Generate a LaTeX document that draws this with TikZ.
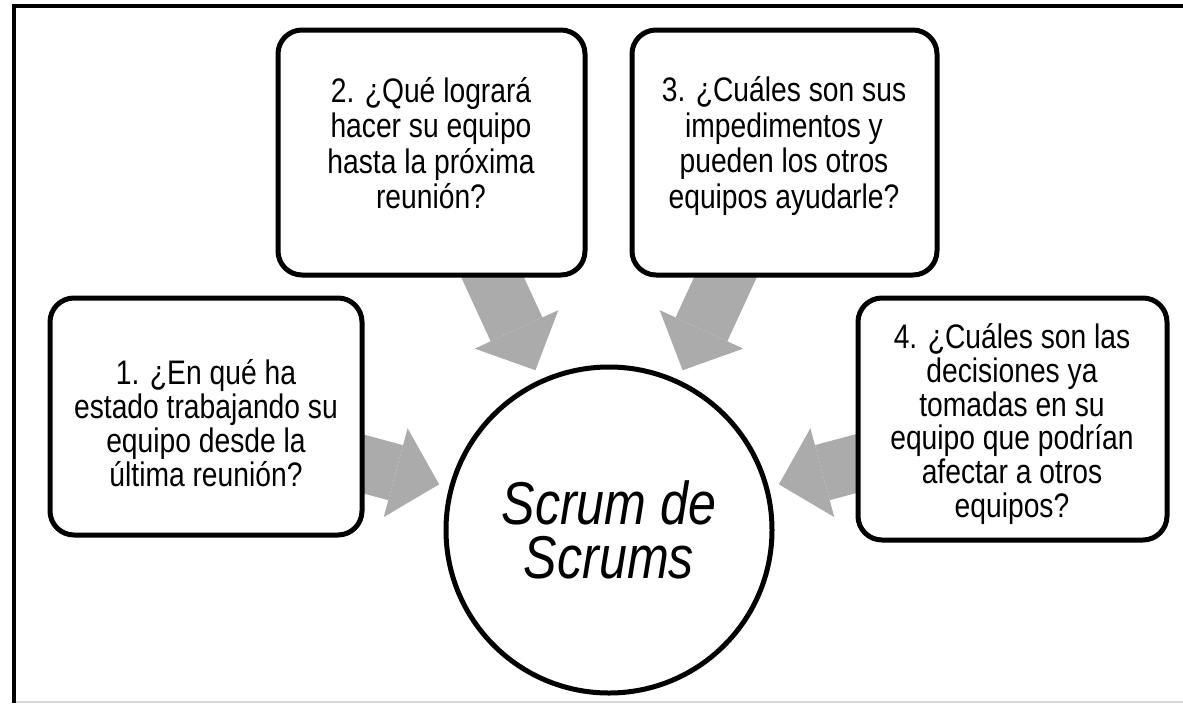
\documentclass[tikz,border=0pt]{standalone}
\usepackage{fontspec}
\setmainfont[FakeStretch=0.83]{Liberation Sans}
\usetikzlibrary{arrows.meta}
\definecolor{arrowgray}{HTML}{ABABAB}
\begin{document}
\begin{tikzpicture}[x=0.25mm,y=-0.25mm,
		qbox/.style={draw,line width=1.25mm,rounded corners=6mm,fill=white},
		qtext/.style={align=center,inner sep=0pt,font=\fontsize{24.2pt}{24.1pt}\selectfont},
		qtexttop/.style={qtext,font=\fontsize{24.2pt}{25.3pt}\selectfont},
		flow/.style={draw=arrowgray,line width=14.25mm,shorten >=2.6mm,-{Triangle[width=23mm,length=11.25mm,line width=0pt]}}]
	\useasboundingbox (0,0) rectangle (1183,703);
	\draw[line width=1mm] (14,703) -- (14,6) -- (1183,6);
	\draw[line width=0.4mm,black!15] (16,702) -- (1183,702);
	\node[circle,draw,line width=1.25mm,minimum size=81.5mm,inner sep=0pt,align=center,
		font=\fontsize{43pt}{38.5pt}\selectfont\itshape] (hub) at (609,530) {Scrum de\\Scrums};
	\coordinate (a1) at (330,455);
	\coordinate (a2) at (480,250);
	\coordinate (a3) at (738,250);
	\coordinate (a4) at (888,455);
	\draw[flow] (a1) -- (hub);
	\draw[flow] (a2) -- (hub);
	\draw[flow] (a3) -- (hub);
	\draw[flow] (a4) -- (hub);
	\draw[qbox] (50,298) rectangle (362,535);
	\draw[qbox] (278,30) rectangle (585,275);
	\draw[qbox] (632,30) rectangle (937,275);
	\draw[qbox] (858,298) rectangle (1167,540);
	\node[qtext] (q1) at (206,423) {1. ¿En qué ha\\estado trabajando su\\equipo desde la\\última reunión?};
	\node[qtexttop] (q2) at (431,143) {2. ¿Qué logrará\\hacer su equipo\\hasta la próxima\\reunión?};
	\node[qtexttop] (q3) at (784,146) {3. ¿Cuáles son sus\\impedimentos y\\pueden los otros\\equipos ayudarle?};
	\node[qtext] (q4) at (1012,424) {4. ¿Cuáles son las\\decisiones ya\\tomadas en su\\equipo que podrían\\afectar a otros\\equipos?};
\end{tikzpicture}
\end{document}
